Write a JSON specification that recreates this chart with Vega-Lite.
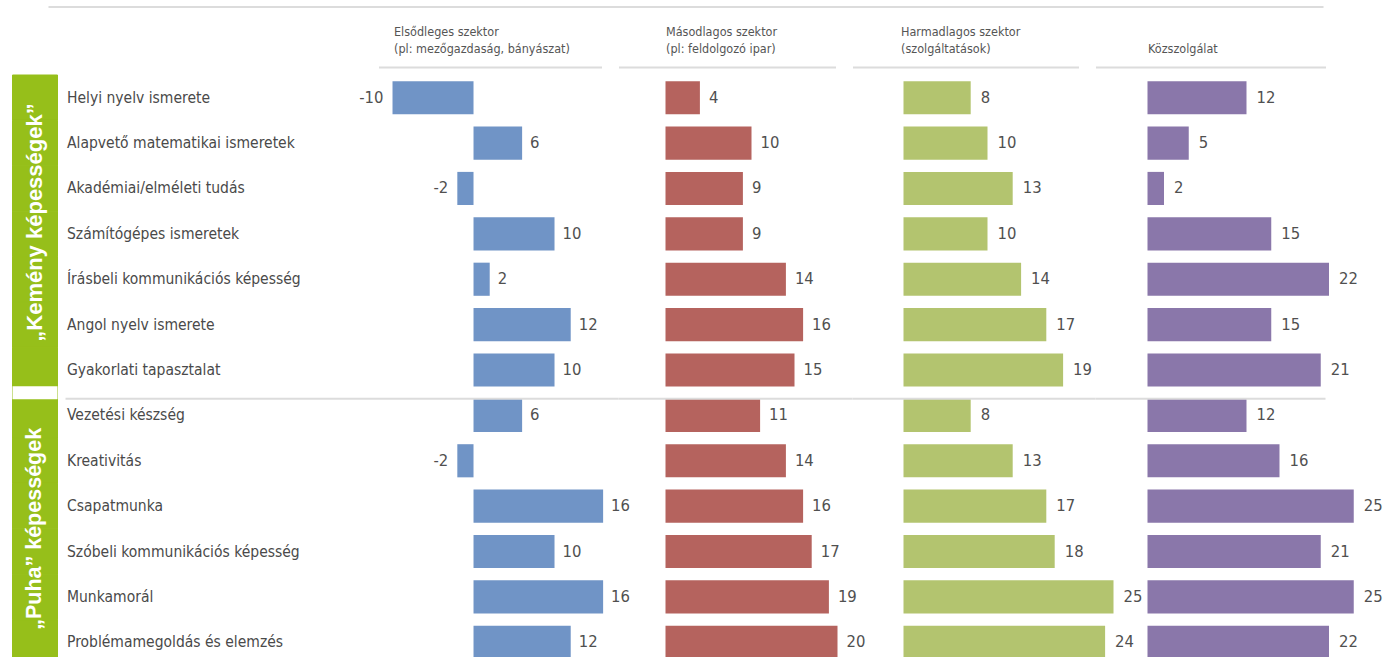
{
  "$schema": "https://vega.github.io/schema/vega-lite/v6.json",
  "padding": {"left": 5.5, "top": 6, "right": 0, "bottom": 0},
  "background": "white",
  "config": {
    "view": {"stroke": null},
    "font": "Liberation Sans Narrow, DejaVu Sans Condensed, sans-serif",
    "text": {"font": "Liberation Sans Narrow, DejaVu Sans Condensed, sans-serif", "fontSize": 16.5, "color": "#505050", "baseline": "middle"},
    "axis": {"labelFont": "Liberation Sans Narrow, DejaVu Sans Condensed, sans-serif", "titleFont": "Liberation Sans Narrow, DejaVu Sans Condensed, sans-serif"}
  },
  "datasets": {
    "skills": [
      {"skill": "Helyi nyelv ismerete", "group": "„Kemény képességek”"},
      {"skill": "Alapvető matematikai ismeretek", "group": "„Kemény képességek”"},
      {"skill": "Akadémiai/elméleti tudás", "group": "„Kemény képességek”"},
      {"skill": "Számítógépes ismeretek", "group": "„Kemény képességek”"},
      {"skill": "Írásbeli kommunikációs képesség", "group": "„Kemény képességek”"},
      {"skill": "Angol nyelv ismerete", "group": "„Kemény képességek”"},
      {"skill": "Gyakorlati tapasztalat", "group": "„Kemény képességek”"},
      {"skill": "Vezetési készség", "group": "„Puha” képességek"},
      {"skill": "Kreativitás", "group": "„Puha” képességek"},
      {"skill": "Csapatmunka", "group": "„Puha” képességek"},
      {"skill": "Szóbeli kommunikációs képesség", "group": "„Puha” képességek"},
      {"skill": "Munkamorál", "group": "„Puha” képességek"},
      {"skill": "Problémamegoldás és elemzés", "group": "„Puha” képességek"}
    ],
    "bars": [
      {"skill": "Helyi nyelv ismerete", "sector": "Elsődleges", "value": -10},
      {"skill": "Alapvető matematikai ismeretek", "sector": "Elsődleges", "value": 6},
      {"skill": "Akadémiai/elméleti tudás", "sector": "Elsődleges", "value": -2},
      {"skill": "Számítógépes ismeretek", "sector": "Elsődleges", "value": 10},
      {"skill": "Írásbeli kommunikációs képesség", "sector": "Elsődleges", "value": 2},
      {"skill": "Angol nyelv ismerete", "sector": "Elsődleges", "value": 12},
      {"skill": "Gyakorlati tapasztalat", "sector": "Elsődleges", "value": 10},
      {"skill": "Vezetési készség", "sector": "Elsődleges", "value": 6},
      {"skill": "Kreativitás", "sector": "Elsődleges", "value": -2},
      {"skill": "Csapatmunka", "sector": "Elsődleges", "value": 16},
      {"skill": "Szóbeli kommunikációs képesség", "sector": "Elsődleges", "value": 10},
      {"skill": "Munkamorál", "sector": "Elsődleges", "value": 16},
      {"skill": "Problémamegoldás és elemzés", "sector": "Elsődleges", "value": 12},
      {"skill": "Helyi nyelv ismerete", "sector": "Másodlagos", "value": 4},
      {"skill": "Alapvető matematikai ismeretek", "sector": "Másodlagos", "value": 10},
      {"skill": "Akadémiai/elméleti tudás", "sector": "Másodlagos", "value": 9},
      {"skill": "Számítógépes ismeretek", "sector": "Másodlagos", "value": 9},
      {"skill": "Írásbeli kommunikációs képesség", "sector": "Másodlagos", "value": 14},
      {"skill": "Angol nyelv ismerete", "sector": "Másodlagos", "value": 16},
      {"skill": "Gyakorlati tapasztalat", "sector": "Másodlagos", "value": 15},
      {"skill": "Vezetési készség", "sector": "Másodlagos", "value": 11},
      {"skill": "Kreativitás", "sector": "Másodlagos", "value": 14},
      {"skill": "Csapatmunka", "sector": "Másodlagos", "value": 16},
      {"skill": "Szóbeli kommunikációs képesség", "sector": "Másodlagos", "value": 17},
      {"skill": "Munkamorál", "sector": "Másodlagos", "value": 19},
      {"skill": "Problémamegoldás és elemzés", "sector": "Másodlagos", "value": 20},
      {"skill": "Helyi nyelv ismerete", "sector": "Harmadlagos", "value": 8},
      {"skill": "Alapvető matematikai ismeretek", "sector": "Harmadlagos", "value": 10},
      {"skill": "Akadémiai/elméleti tudás", "sector": "Harmadlagos", "value": 13},
      {"skill": "Számítógépes ismeretek", "sector": "Harmadlagos", "value": 10},
      {"skill": "Írásbeli kommunikációs képesség", "sector": "Harmadlagos", "value": 14},
      {"skill": "Angol nyelv ismerete", "sector": "Harmadlagos", "value": 17},
      {"skill": "Gyakorlati tapasztalat", "sector": "Harmadlagos", "value": 19},
      {"skill": "Vezetési készség", "sector": "Harmadlagos", "value": 8},
      {"skill": "Kreativitás", "sector": "Harmadlagos", "value": 13},
      {"skill": "Csapatmunka", "sector": "Harmadlagos", "value": 17},
      {"skill": "Szóbeli kommunikációs képesség", "sector": "Harmadlagos", "value": 18},
      {"skill": "Munkamorál", "sector": "Harmadlagos", "value": 25},
      {"skill": "Problémamegoldás és elemzés", "sector": "Harmadlagos", "value": 24},
      {"skill": "Helyi nyelv ismerete", "sector": "Közszolgálat", "value": 12},
      {"skill": "Alapvető matematikai ismeretek", "sector": "Közszolgálat", "value": 5},
      {"skill": "Akadémiai/elméleti tudás", "sector": "Közszolgálat", "value": 2},
      {"skill": "Számítógépes ismeretek", "sector": "Közszolgálat", "value": 15},
      {"skill": "Írásbeli kommunikációs képesség", "sector": "Közszolgálat", "value": 22},
      {"skill": "Angol nyelv ismerete", "sector": "Közszolgálat", "value": 15},
      {"skill": "Gyakorlati tapasztalat", "sector": "Közszolgálat", "value": 21},
      {"skill": "Vezetési készség", "sector": "Közszolgálat", "value": 12},
      {"skill": "Kreativitás", "sector": "Közszolgálat", "value": 16},
      {"skill": "Csapatmunka", "sector": "Közszolgálat", "value": 25},
      {"skill": "Szóbeli kommunikációs képesség", "sector": "Közszolgálat", "value": 21},
      {"skill": "Munkamorál", "sector": "Közszolgálat", "value": 25},
      {"skill": "Problémamegoldás és elemzés", "sector": "Közszolgálat", "value": 22}
    ]
  },
  "bounds": "flush",
  "spacing": 69,
  "vconcat": [
    {
      "bounds": "flush",
      "spacing": 16,
      "hconcat": [
        {"width": 20, "height": 1, "data": {"values": [{}]},
         "mark": {"type": "rule", "color": "#ffffff", "strokeWidth": 2, "opacity": 0},
         "encoding": {"y": {"datum": 0, "type": "quantitative", "scale": {"domain": [0, 1]}, "axis": null}}},
        {"width": 1275, "height": 1, "data": {"values": [{}]},
         "mark": {"type": "rule", "color": "#dcdcdc", "strokeWidth": 2},
         "encoding": {"y": {"datum": 0, "type": "quantitative", "scale": {"domain": [0, 1]}, "axis": null}}}
      ]
    },
    {
      "bounds": "flush",
      "spacing": 321,
      "hconcat": [
        {
          "width": 45, "height": 590,
          "data": {"name": "skills"},
          "encoding": {"y": {"field": "skill", "type": "nominal", "sort": null, "axis": null,
            "scale": {"domain": ["Helyi nyelv ismerete", "Alapvető matematikai ismeretek", "Akadémiai/elméleti tudás", "Számítógépes ismeretek", "Írásbeli kommunikációs képesség", "Angol nyelv ismerete", "Gyakorlati tapasztalat", "Vezetési készség", "Kreativitás", "Csapatmunka", "Szóbeli kommunikációs képesség", "Munkamorál", "Problémamegoldás és elemzés"], "paddingInner": 0, "paddingOuter": 0}}},
          "layer": [
            {"mark": {"type": "rect", "color": "#96bf1a", "stroke": "#96bf1a", "strokeWidth": 1}},
            {"transform": [{"filter": "datum.skill === 'Vezetési készség'"}],
             "mark": {"type": "rule", "color": "white", "strokeWidth": 13},
             "encoding": {"y": {"field": "skill", "type": "nominal", "bandPosition": 0}}},
            {"transform": [{"filter": "datum.skill === 'Számítógépes ismeretek'"}],
             "mark": {"type": "text", "angle": 270, "font": "Liberation Sans, Arial, sans-serif", "fontWeight": "bold", "fontSize": 22, "color": "white", "align": "center", "baseline": "middle"},
             "encoding": {"y": {"field": "skill", "type": "nominal", "bandPosition": 0.25}, "text": {"field": "group"}}},
            {"transform": [{"filter": "datum.skill === 'Csapatmunka'"}],
             "mark": {"type": "text", "angle": 270, "font": "Liberation Sans, Arial, sans-serif", "fontWeight": "bold", "fontSize": 21.5, "color": "white", "align": "center", "baseline": "middle"},
             "encoding": {"y": {"field": "skill", "type": "nominal", "bandPosition": 1}, "text": {"field": "group"}}}
          ]
        },
        {
          "bounds": "flush",
          "spacing": 17,
          "hconcat": [
            {
              "width": 223, "height": 590,
              "data": {"name": "bars"},
              "transform": [{"filter": "datum.sector === 'Elsődleges'"}],
              "encoding": {"y": {"field": "skill", "type": "nominal", "sort": null,
                "scale": {"domain": ["Helyi nyelv ismerete", "Alapvető matematikai ismeretek", "Akadémiai/elméleti tudás", "Számítógépes ismeretek", "Írásbeli kommunikációs képesség", "Angol nyelv ismerete", "Gyakorlati tapasztalat", "Vezetési készség", "Kreativitás", "Csapatmunka", "Szóbeli kommunikációs képesség", "Munkamorál", "Problémamegoldás és elemzés"], "paddingInner": 0.27, "paddingOuter": 0.135},
                "axis": {"orient": "left", "domain": false, "ticks": false, "tickSize": 0, "grid": false, "title": null, "labelPadding": 312, "labelAlign": "left", "labelBaseline": "middle", "labelFontSize": 15.5, "labelColor": "#4a4a4a", "labelLimit": 400}}},
              "layer": [
                {"mark": {"type": "bar", "color": "#7094c6"},
                 "encoding": {"x": {"field": "value", "type": "quantitative", "scale": {"domain": [-11.73, 15.8], "nice": false},
                   "axis": {"orient": "top", "labels": false, "ticks": false, "grid": false, "domain": true, "domainColor": "#dcdcdc", "domainWidth": 2, "offset": 8,
                     "title": ["Elsődleges  szektor", "(pl: mezőgazdaság, bányászat)"], "titleAnchor": "start", "titleAlign": "left", "titleX": 15, "titlePadding": 12, "titleFontSize": 12.5, "titleFontWeight": "normal", "titleColor": "#555555", "titleLineHeight": 17}}}},
                {"transform": [{"filter": "datum.value >= 0"}],
                 "mark": {"type": "text", "align": "left", "dx": 8},
                 "encoding": {"x": {"field": "value", "type": "quantitative"}, "text": {"field": "value", "type": "nominal"}}},
                {"transform": [{"filter": "datum.value < 0"}],
                 "mark": {"type": "text", "align": "right", "dx": -9},
                 "encoding": {"x": {"field": "value", "type": "quantitative"}, "text": {"field": "value", "type": "nominal"}}},
                {"transform": [{"filter": "datum.skill === 'Vezetési készség'"}],
                 "mark": {"type": "rule", "color": "#dcdcdc", "strokeWidth": 2},
                 "encoding": {"y": {"field": "skill", "type": "nominal", "bandPosition": 0}, "x": {"datum": -50.37, "type": "quantitative"}, "x2": {"datum": 17.9}}}
              ]
            },
            {
              "width": 217, "height": 590,
              "data": {"name": "bars"},
              "transform": [{"filter": "datum.sector === 'Másodlagos'"}],
              "encoding": {"y": {"field": "skill", "type": "nominal", "sort": null, "axis": null,
                "scale": {"domain": ["Helyi nyelv ismerete", "Alapvető matematikai ismeretek", "Akadémiai/elméleti tudás", "Számítógépes ismeretek", "Írásbeli kommunikációs képesség", "Angol nyelv ismerete", "Gyakorlati tapasztalat", "Vezetési készség", "Kreativitás", "Csapatmunka", "Szóbeli kommunikációs képesség", "Munkamorál", "Problémamegoldás és elemzés"], "paddingInner": 0.27, "paddingOuter": 0.135}}},
              "layer": [
                {"mark": {"type": "bar", "color": "#b5635e"},
                 "encoding": {"x": {"field": "value", "type": "quantitative", "scale": {"domain": [-5.465, 19.767], "nice": false},
                   "axis": {"orient": "top", "labels": false, "ticks": false, "grid": false, "domain": true, "domainColor": "#dcdcdc", "domainWidth": 2, "offset": 8,
                     "title": ["Másodlagos szektor", "(pl: feldolgozó ipar)"], "titleAnchor": "start", "titleAlign": "left", "titleX": 47, "titlePadding": 12, "titleFontSize": 12.5, "titleFontWeight": "normal", "titleColor": "#555555", "titleLineHeight": 17}}}},
                {"mark": {"type": "text", "align": "left", "dx": 9},
                 "encoding": {"x": {"field": "value", "type": "quantitative"}, "text": {"field": "value", "type": "nominal"}}},
                {"transform": [{"filter": "datum.skill === 'Vezetési készség'"}],
                 "mark": {"type": "rule", "color": "#dcdcdc", "strokeWidth": 2},
                 "encoding": {"y": {"field": "skill", "type": "nominal", "bandPosition": 0}, "x": {"datum": -5.465, "type": "quantitative"}, "x2": {"datum": 21.74}}}
              ]
            },
            {
              "width": 226, "height": 590,
              "data": {"name": "bars"},
              "transform": [{"filter": "datum.sector === 'Harmadlagos'"}],
              "encoding": {"y": {"field": "skill", "type": "nominal", "sort": null, "axis": null,
                "scale": {"domain": ["Helyi nyelv ismerete", "Alapvető matematikai ismeretek", "Akadémiai/elméleti tudás", "Számítógépes ismeretek", "Írásbeli kommunikációs képesség", "Angol nyelv ismerete", "Gyakorlati tapasztalat", "Vezetési készség", "Kreativitás", "Csapatmunka", "Szóbeli kommunikációs képesség", "Munkamorál", "Problémamegoldás és elemzés"], "paddingInner": 0.27, "paddingOuter": 0.135}}},
              "layer": [
                {"mark": {"type": "bar", "color": "#b3c46f"},
                 "encoding": {"x": {"field": "value", "type": "quantitative", "scale": {"domain": [-6.071, 20.833], "nice": false},
                   "axis": {"orient": "top", "labels": false, "ticks": false, "grid": false, "domain": true, "domainColor": "#dcdcdc", "domainWidth": 2, "offset": 8,
                     "title": ["Harmadlagos szektor", "(szolgáltatások)"], "titleAnchor": "start", "titleAlign": "left", "titleX": 48, "titlePadding": 12, "titleFontSize": 12.5, "titleFontWeight": "normal", "titleColor": "#555555", "titleLineHeight": 17}}}},
                {"mark": {"type": "text", "align": "left", "dx": 10},
                 "encoding": {"x": {"field": "value", "type": "quantitative"}, "text": {"field": "value", "type": "nominal"}}},
                {"transform": [{"filter": "datum.skill === 'Vezetési készség'"}],
                 "mark": {"type": "rule", "color": "#dcdcdc", "strokeWidth": 2},
                 "encoding": {"y": {"field": "skill", "type": "nominal", "bandPosition": 0}, "x": {"datum": -6.071, "type": "quantitative"}, "x2": {"datum": 22.857}}}
              ]
            },
            {
              "width": 230, "height": 590,
              "data": {"name": "bars"},
              "transform": [{"filter": "datum.sector === 'Közszolgálat'"}],
              "encoding": {"y": {"field": "skill", "type": "nominal", "sort": null, "axis": null,
                "scale": {"domain": ["Helyi nyelv ismerete", "Alapvető matematikai ismeretek", "Akadémiai/elméleti tudás", "Számítógépes ismeretek", "Írásbeli kommunikációs képesség", "Angol nyelv ismerete", "Gyakorlati tapasztalat", "Vezetési készség", "Kreativitás", "Csapatmunka", "Szóbeli kommunikációs képesség", "Munkamorál", "Problémamegoldás és elemzés"], "paddingInner": 0.27, "paddingOuter": 0.135}}},
              "layer": [
                {"mark": {"type": "bar", "color": "#8a77aa"},
                 "encoding": {"x": {"field": "value", "type": "quantitative", "scale": {"domain": [-6.303, 21.576], "nice": false},
                   "axis": {"orient": "top", "labels": false, "ticks": false, "grid": false, "domain": true, "domainColor": "#dcdcdc", "domainWidth": 2, "offset": 8,
                     "title": "Közszolgálat", "titleAnchor": "start", "titleAlign": "left", "titleX": 52, "titlePadding": 12, "titleFontSize": 12.5, "titleFontWeight": "normal", "titleColor": "#555555", "titleLineHeight": 17}}}},
                {"mark": {"type": "text", "align": "left", "dx": 10},
                 "encoding": {"x": {"field": "value", "type": "quantitative"}, "text": {"field": "value", "type": "nominal"}}},
                {"transform": [{"filter": "datum.skill === 'Vezetési készség'"}],
                 "mark": {"type": "rule", "color": "#dcdcdc", "strokeWidth": 2},
                 "encoding": {"y": {"field": "skill", "type": "nominal", "bandPosition": 0}}}
              ]
            }
          ]
        }
      ]
    }
  ]
}
